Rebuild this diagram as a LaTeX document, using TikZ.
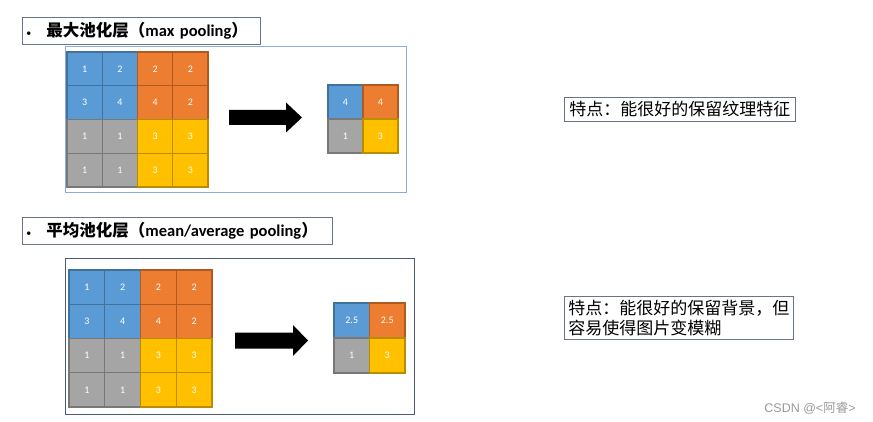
\documentclass[tikz,border=0pt]{standalone}
\usepackage{fontspec}
\setmainfont{Carlito}
\newfontfamily\cjk{Noto Sans CJK SC}
\newfontfamily\wmfont{Liberation Sans}
\usepackage{xcolor}
\usepackage{tikz}
\usetikzlibrary{positioning}

\definecolor{cblue}{HTML}{5B9BD5}
\definecolor{cbluedk}{HTML}{41719C}
\definecolor{corange}{HTML}{ED7D31}
\definecolor{corangedk}{HTML}{AE5A21}
\definecolor{cgray}{HTML}{A5A5A5}
\definecolor{cgraydk}{HTML}{787878}
\definecolor{cyellow}{HTML}{FFC000}
\definecolor{cyellowdk}{HTML}{BC8C00}
\definecolor{framelight}{HTML}{8FAADC}
\definecolor{framedark}{HTML}{4D5B6E}
\definecolor{boxline}{HTML}{6A7584}

\begin{document}
\begin{tikzpicture}[
  x=1pt, y=-1pt,
  cell/.style={rectangle, line width=1.4pt, inner sep=0pt, outer sep=0pt,
    text=white, font=\fontsize{10}{11}\selectfont},
  bluecell/.style={cell, fill=cblue, draw=cbluedk},
  orangecell/.style={cell, fill=corange, draw=corangedk},
  graycell/.style={cell, fill=cgray, draw=cgraydk},
  yellowcell/.style={cell, fill=cyellow, draw=cyellowdk},
  titlebox/.style={rectangle, draw=boxline, line width=1pt, anchor=north west,
    minimum height=27pt, inner xsep=4pt, inner ysep=0pt, align=left,
    font=\fontsize{16.5}{19}\selectfont},
  notebox/.style={rectangle, draw=boxline, line width=0.8pt, anchor=north west,
    inner xsep=2pt, inner ysep=1pt, align=left,
    font=\cjk\fontsize{17}{20}\selectfont},
  blockarrow/.style={fill=black}
]
  \useasboundingbox (0,0) rectangle (873,422);

  % Max pooling part
  \node[titlebox, minimum width=238pt, text width=230pt] (titlemax) at (22,17)
    {\makebox[20pt][l]{\fontsize{10}{12}\selectfont\textbullet}{\cjk\bfseries 最大池化层（}{\bfseries max pooling}{\cjk\bfseries ）}};
  \draw[framelight, line width=1pt] (65,47) rectangle (406,193);

  \begin{scope}[every node/.append style={minimum width=35.25pt, minimum height=33.75pt}]
    \node[bluecell, anchor=north west] (a11) at (67,52) {1};
    \node[bluecell, right=0pt of a11] (a12) {2};
    \node[orangecell, right=0pt of a12] (a13) {2};
    \node[orangecell, right=0pt of a13] (a14) {2};
    \node[bluecell, below=0pt of a11] (a21) {3};
    \node[bluecell, right=0pt of a21] (a22) {4};
    \node[orangecell, right=0pt of a22] (a23) {4};
    \node[orangecell, right=0pt of a23] (a24) {2};
    \node[graycell, below=0pt of a21] (a31) {1};
    \node[graycell, right=0pt of a31] (a32) {1};
    \node[yellowcell, right=0pt of a32] (a33) {3};
    \node[yellowcell, right=0pt of a33] (a34) {3};
    \node[graycell, below=0pt of a31] (a41) {1};
    \node[graycell, right=0pt of a41] (a42) {1};
    \node[yellowcell, right=0pt of a42] (a43) {3};
    \node[yellowcell, right=0pt of a43] (a44) {3};
  \end{scope}

  \coordinate (arrmax) at (229,117.5);
  \fill[blockarrow] (arrmax) -- ++(0,-7.5) -- ++(57,0) -- ++(0,-7.5) -- ++(16,15)
    -- ++(-16,15) -- ++(0,-7.5) -- ++(-57,0) -- cycle;

  \begin{scope}[every node/.append style={minimum width=35pt, minimum height=34pt}]
    \node[bluecell, anchor=north west] (p11) at (328,85) {4};
    \node[orangecell, right=0pt of p11] (p12) {4};
    \node[graycell, below=0pt of p11] (p21) {1};
    \node[yellowcell, right=0pt of p21] (p22) {3};
  \end{scope}

  \node[notebox, minimum width=231pt, minimum height=24pt] (notemax) at (564,97)
    {特点：能很好的保留纹理特征};

  % Mean pooling part
  \node[titlebox, minimum width=310pt, text width=302pt] (titlemean) at (22,217)
    {\makebox[20pt][l]{\fontsize{10}{12}\selectfont\textbullet}{\cjk\bfseries 平均池化层（}{\bfseries mean/average pooling}{\cjk\bfseries ）}};
  \draw[framedark, line width=1pt] (65,259) rectangle (414,414);

  \begin{scope}[every node/.append style={minimum width=35.75pt, minimum height=34.25pt}]
    \node[bluecell, anchor=north west] (b11) at (69,270) {1};
    \node[bluecell, right=0pt of b11] (b12) {2};
    \node[orangecell, right=0pt of b12] (b13) {2};
    \node[orangecell, right=0pt of b13] (b14) {2};
    \node[bluecell, below=0pt of b11] (b21) {3};
    \node[bluecell, right=0pt of b21] (b22) {4};
    \node[orangecell, right=0pt of b22] (b23) {4};
    \node[orangecell, right=0pt of b23] (b24) {2};
    \node[graycell, below=0pt of b21] (b31) {1};
    \node[graycell, right=0pt of b31] (b32) {1};
    \node[yellowcell, right=0pt of b32] (b33) {3};
    \node[yellowcell, right=0pt of b33] (b34) {3};
    \node[graycell, below=0pt of b31] (b41) {1};
    \node[graycell, right=0pt of b41] (b42) {1};
    \node[yellowcell, right=0pt of b42] (b43) {3};
    \node[yellowcell, right=0pt of b43] (b44) {3};
  \end{scope}

  \coordinate (arrmean) at (235,340.5);
  \fill[blockarrow] (arrmean) -- ++(0,-8) -- ++(58,0) -- ++(0,-7.5) -- ++(15,15.5)
    -- ++(-15,15.5) -- ++(0,-7.5) -- ++(-58,0) -- cycle;

  \begin{scope}[every node/.append style={minimum width=35.5pt, minimum height=35pt}]
    \node[bluecell, anchor=north west] (q11) at (334,303) {2.5};
    \node[orangecell, right=0pt of q11] (q12) {2.5};
    \node[graycell, below=0pt of q11] (q21) {1};
    \node[yellowcell, right=0pt of q21] (q22) {3};
  \end{scope}

  \node[notebox, minimum width=229pt, minimum height=43pt] (notemean) at (564,296)
    {特点：能很好的保留背景，但\\容易使得图片变模糊};

  % Watermark
  \node[text=black!40, font=\wmfont\fontsize{12.5}{14}\selectfont] (mark) at (810,408)
    {CSDN @<{\cjk 阿睿}>};
\end{tikzpicture}
\end{document}
